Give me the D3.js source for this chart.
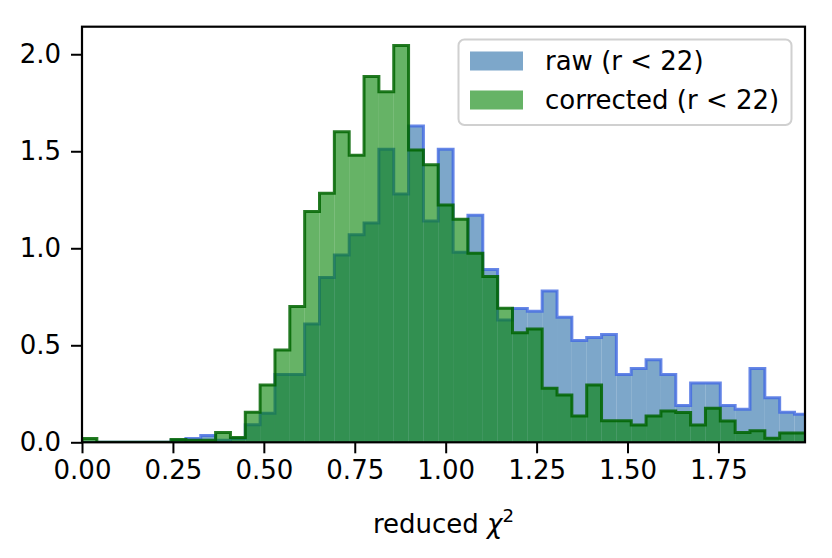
<!DOCTYPE html>
<html>
<head>
<meta charset="utf-8">
<script src="https://cdn.jsdelivr.net/npm/d3@7"></script>
<style>
  body { margin: 0; background: #fff; }
  svg { display: block; font-family: "DejaVu Sans", sans-serif; }
</style>
</head>
<body>
<svg id="chart" width="832" height="558"></svg>
<script>
"use strict";

// binning : 49 bins between 0 and 2
const binLo = 0, binHi = 2, nBins = 49;

// densities, one per bin
const rawValues = [
  0, 0, 0, 0, 0, 0, 0.01, 0.02, 0.035, 0.01,
  0.02, 0.09, 0.15, 0.35, 0.35, 0.61, 0.85, 0.965, 1.07, 1.13,
  1.51, 1.28, 1.63, 1.14, 1.51, 0.98, 1.17, 0.89, 0.63, 0.69,
  0.675, 0.78, 0.645, 0.525, 0.54, 0.555, 0.35, 0.38, 0.425, 0.35,
  0.19, 0.305, 0.305, 0.19, 0.17, 0.38, 0.23, 0.155, 0.145
];
const correctedValues = [
  0.02, 0, 0, 0, 0, 0, 0.015, 0.01, 0.01, 0.05,
  0.025, 0.155, 0.295, 0.476, 0.70, 1.19, 1.283, 1.60, 1.48, 1.885,
  1.807, 2.045, 1.507, 1.43, 1.223, 1.149, 0.974, 0.854, 0.691, 0.565,
  0.584, 0.278, 0.244, 0.136, 0.295, 0.111, 0.111, 0.089, 0.136, 0.161,
  0.153, 0.089, 0.175, 0.11, 0.05, 0.06, 0.021, 0.048, 0.048
];

const seriesNames = ["raw (r < 22)", "corrected (r < 22)"];
const xTicks = [0, 0.25, 0.5, 0.75, 1.0, 1.25, 1.5, 1.75];
const yTicks = [0, 0.5, 1.0, 1.5, 2.0];

const svg = d3.select("#chart");
const FONT = 26;

const x = d3.scaleLinear().domain([0, 1.988]).range([82, 805]);
const y = d3.scaleLinear().domain([0, 2.142]).range([442.3, 26.7]);

const edges = d3.range(nBins + 1).map(i => binLo + i * (binHi - binLo) / nBins);

svg.append("clipPath").attr("id", "plotclip")
  .append("rect")
    .attr("x", x(0)).attr("y", y(2.142))
    .attr("width", x(1.988) - x(0)).attr("height", y(0) - y(2.142));

const plot = svg.append("g").attr("clip-path", "url(#plotclip)");

// step outline, like matplotlib histtype="step"
const stepPoints = vals => {
  const pts = [[edges[0], 0]];
  vals.forEach((v, i) => { pts.push([edges[i], v]); pts.push([edges[i + 1], v]); });
  pts.push([edges[nBins], 0]);
  return pts;
};
const line = d3.line().x(d => x(d[0])).y(d => y(d[1]));

const drawBars = (vals, color, opacity) => {
  plot.append("g").selectAll("rect")
      .data(vals)
    .enter().append("rect")
      .attr("x", (d, i) => x(edges[i]))
      .attr("width", (d, i) => x(edges[i + 1]) - x(edges[i]))
      .attr("y", d => y(d))
      .attr("height", d => y(0) - y(d))
      .attr("fill", color)
      .attr("fill-opacity", opacity);
};
const drawStep = (vals, color, opacity) => {
  plot.append("path")
      .attr("d", line(stepPoints(vals)))
      .attr("fill", "none")
      .attr("stroke", color)
      .attr("stroke-opacity", opacity)
      .attr("stroke-width", 3)
      .attr("stroke-linejoin", "miter");
};

drawBars(rawValues, "steelblue", 0.7);
drawStep(rawValues, "royalblue", 0.8);
drawBars(correctedValues, "green", 0.6);
drawStep(correctedValues, "darkgreen", 0.85);

// axes
const xAxis = svg.append("g")
    .attr("transform", `translate(0,${y(0)})`)
    .call(d3.axisBottom(x).tickValues(xTicks).tickFormat(d3.format(".2f"))
      .tickSizeInner(11).tickSizeOuter(0).tickPadding(7));
const yAxis = svg.append("g")
    .attr("transform", `translate(${x(0)},0)`)
    .call(d3.axisLeft(y).tickValues(yTicks).tickFormat(d3.format(".1f"))
      .tickSizeInner(11).tickSizeOuter(0).tickPadding(10));

[xAxis, yAxis].forEach(a => {
  a.select(".domain").remove();
  a.selectAll(".tick line").attr("stroke", "#000").attr("stroke-width", 2);
  a.selectAll(".tick text")
    .attr("fill", "#000")
    .attr("font-size", FONT)
    .attr("font-family", "DejaVu Sans, sans-serif");
});

// spines
svg.append("rect")
    .attr("x", x(0)).attr("y", y(2.142))
    .attr("width", x(1.988) - x(0)).attr("height", y(0) - y(2.142))
    .attr("fill", "none").attr("stroke", "#000").attr("stroke-width", 2.2);

// x label
const xl = svg.append("text")
    .attr("x", (x(0) + x(1.988)) / 2)
    .attr("y", 533)
    .attr("text-anchor", "middle")
    .attr("font-size", FONT)
    .attr("fill", "#000");
xl.append("tspan").text("reduced ");
xl.append("tspan").attr("font-style", "italic").text("χ");
xl.append("tspan").attr("font-size", FONT * 0.7).attr("dy", -11).text("2");

// legend
const legend = svg.append("g");
legend.append("rect")
    .attr("x", 458.5).attr("y", 39.5)
    .attr("width", 333).attr("height", 85.5)
    .attr("rx", 6).attr("ry", 6)
    .attr("fill", "#fff").attr("fill-opacity", 0.8)
    .attr("stroke", "#d0d0d0").attr("stroke-width", 2);

const legendColors = [["steelblue", 0.7], ["green", 0.6]];
seriesNames.forEach((name, i) => {
  const cy = 61 + i * 39;
  legend.append("rect")
      .attr("x", 470).attr("y", cy - 9.5)
      .attr("width", 53).attr("height", 19)
      .attr("fill", legendColors[i][0]).attr("fill-opacity", legendColors[i][1]);
  legend.append("text")
      .attr("x", 545).attr("y", cy)
      .attr("dy", "0.36em")
      .attr("font-size", FONT)
      .attr("fill", "#000")
      .text(name);
});
</script>
</body>
</html>
